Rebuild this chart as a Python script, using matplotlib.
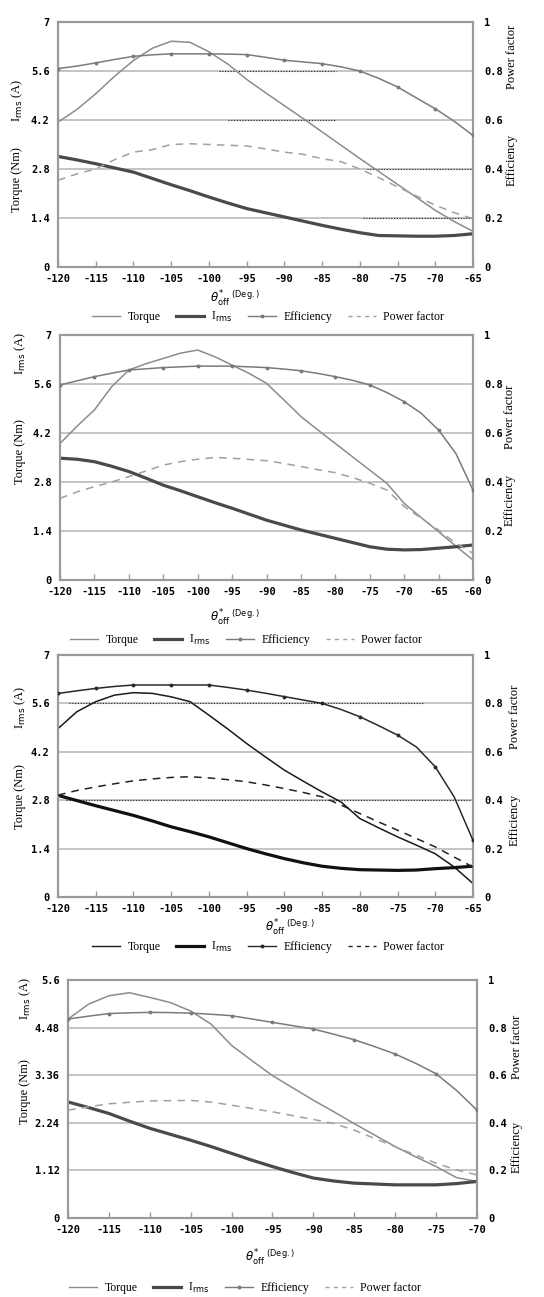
"""
Torque, I_rms, efficiency and power factor against turn-off angle
for four operating cases, stacked in one column.
"""
import matplotlib
matplotlib.use("Agg")
import matplotlib.pyplot as plt
from matplotlib.lines import Line2D

SERIF = "Liberation Serif"
MONO = "DejaVu Sans Mono"

# ---------------- datos (grados, Nm / A, p.u.) ----------------
# caso 1
x1 = [-120, -117.5, -115, -112.5, -110, -107.5, -105, -102.5, -100, -97.5, -95, -92.5,
      -90, -87.5, -85, -82.5, -80, -77.5, -75, -72.5, -70, -67.5, -65]
torque1 = [4.14, 4.50, 4.95, 5.45, 5.90, 6.25, 6.45, 6.42, 6.15, 5.80, 5.36, 4.98,
           4.61, 4.24, 3.86, 3.48, 3.10, 2.73, 2.36, 1.99, 1.62, 1.30, 1.02]
irms1 = [3.16, 3.06, 2.95, 2.83, 2.71, 2.53, 2.35, 2.18, 2.00, 1.83, 1.67, 1.55,
         1.43, 1.31, 1.19, 1.08, 0.98, 0.90, 0.89, 0.88, 0.88, 0.90, 0.95]
eff1 = [0.81, 0.82, 0.833, 0.847, 0.86, 0.866, 0.87, 0.87, 0.87, 0.869, 0.867, 0.856,
        0.844, 0.837, 0.83, 0.817, 0.80, 0.77, 0.735, 0.69, 0.646, 0.595, 0.537]
pf1 = [0.354, 0.38, 0.40, 0.438, 0.469, 0.479, 0.50, 0.503, 0.50, 0.497, 0.494, 0.482,
       0.469, 0.46, 0.442, 0.43, 0.40, 0.365, 0.327, 0.29, 0.252, 0.222, 0.197]

# caso 2
x2 = [-120, -117.5, -115, -112.5, -110, -107.5, -105, -102.5, -100, -97.5, -95, -92.5,
      -90, -87.5, -85, -82.5, -80, -77.5, -75, -72.5, -70, -67.5, -65, -62.5, -60]
torque2 = [3.90, 4.40, 4.86, 5.52, 6.00, 6.18, 6.33, 6.48, 6.57, 6.38, 6.14, 5.90,
           5.62, 5.15, 4.67, 4.28, 3.90, 3.52, 3.14, 2.76, 2.19, 1.78, 1.38, 0.97, 0.57]
irms2 = [3.48, 3.45, 3.38, 3.25, 3.10, 2.91, 2.71, 2.55, 2.38, 2.21, 2.05, 1.88,
         1.71, 1.57, 1.43, 1.31, 1.19, 1.07, 0.95, 0.88, 0.86, 0.87, 0.91, 0.95, 1.00]
eff2 = [0.796, 0.813, 0.83, 0.844, 0.857, 0.862, 0.867, 0.87, 0.873, 0.873, 0.873, 0.87,
        0.867, 0.861, 0.854, 0.843, 0.83, 0.815, 0.796, 0.765, 0.728, 0.68, 0.612, 0.517, 0.367]
pf2 = [0.333, 0.36, 0.381, 0.40, 0.422, 0.445, 0.469, 0.483, 0.493, 0.50, 0.497, 0.492,
       0.487, 0.476, 0.463, 0.45, 0.438, 0.418, 0.395, 0.367, 0.30, 0.252, 0.204, 0.15, 0.109]

# caso 3
x3 = [-120, -117.5, -115, -112.5, -110, -107.5, -105, -102.5, -100, -97.5, -95, -92.5,
      -90, -87.5, -85, -82.5, -80, -77.5, -75, -72.5, -70, -67.5, -65]
torque3 = [4.87, 5.36, 5.65, 5.84, 5.91, 5.89, 5.79, 5.65, 5.26, 4.86, 4.44, 4.05,
           3.67, 3.35, 3.04, 2.75, 2.27, 2.00, 1.74, 1.50, 1.25, 0.87, 0.39]
irms3 = [2.94, 2.79, 2.64, 2.50, 2.36, 2.20, 2.03, 1.89, 1.74, 1.57, 1.40, 1.25,
         1.11, 0.99, 0.89, 0.83, 0.79, 0.78, 0.77, 0.78, 0.82, 0.85, 0.89]
eff3 = [0.841, 0.852, 0.862, 0.87, 0.876, 0.876, 0.876, 0.876, 0.876, 0.866, 0.855, 0.842,
        0.828, 0.814, 0.80, 0.775, 0.745, 0.708, 0.669, 0.62, 0.538, 0.414, 0.234]
pf3 = [0.421, 0.44, 0.455, 0.468, 0.48, 0.488, 0.494, 0.497, 0.492, 0.485, 0.476, 0.463,
       0.448, 0.432, 0.414, 0.38, 0.345, 0.31, 0.276, 0.242, 0.207, 0.165, 0.124]

# caso 4
x4 = [-120, -117.5, -115, -112.5, -110, -107.5, -105, -102.5, -100, -97.5, -95, -92.5,
      -90, -87.5, -85, -82.5, -80, -77.5, -75, -72.5, -70]
torque4 = [4.68, 5.03, 5.23, 5.30, 5.19, 5.07, 4.87, 4.56, 4.06, 3.70, 3.35, 3.06,
           2.77, 2.50, 2.22, 1.95, 1.68, 1.44, 1.21, 0.95, 0.86]
irms4 = [2.73, 2.60, 2.46, 2.28, 2.11, 1.97, 1.83, 1.68, 1.52, 1.36, 1.21, 1.07,
         0.94, 0.87, 0.82, 0.80, 0.78, 0.78, 0.78, 0.81, 0.86]
eff4 = [0.836, 0.848, 0.859, 0.862, 0.864, 0.863, 0.861, 0.856, 0.85, 0.836, 0.822, 0.808,
        0.794, 0.772, 0.749, 0.72, 0.689, 0.65, 0.606, 0.536, 0.453]
pf4 = [0.453, 0.467, 0.48, 0.486, 0.492, 0.493, 0.494, 0.487, 0.474, 0.46, 0.446, 0.43,
       0.414, 0.397, 0.369, 0.334, 0.299, 0.265, 0.23, 0.202, 0.181]

xticks1 = [-120, -115, -110, -105, -100, -95, -90, -85, -80, -75, -70, -65]
xticks2 = [-120, -115, -110, -105, -100, -95, -90, -85, -80, -75, -70, -65, -60]
xticks4 = [-120, -115, -110, -105, -100, -95, -90, -85, -80, -75, -70]
yticks_a = [0, 1.4, 2.8, 4.2, 5.6, 7]
ylabels_a = ["0", "1.4", "2.8", "4.2", "5.6", "7"]
yticks_b = [0, 1.12, 2.24, 3.36, 4.48, 5.6]
ylabels_b = ["0", "1.12", "2.24", "3.36", "4.48", "5.6"]
rticks = [0, 0.2, 0.4, 0.6, 0.8, 1]
rlabels = ["0", "0.2", "0.4", "0.6", "0.8", "1"]

W, H = 544, 1297
fig = plt.figure(figsize=(W / 100, H / 100), dpi=100)
fig.patch.set_facecolor("white")


def fx(px):
    return px / W


def fy(py):
    return 1 - py / H


def panel(box, x, torque, irms, eff, pf, xlim, xticks, yticks, ylabels, cols,
          xlab_x, xlab_y, leg_x, leg_y, ltxt, rtxt, dotted=()):
    l, r, t, b = box
    ax = fig.add_axes([fx(l), fy(b), fx(r - l), (b - t) / H])
    ymax = yticks[-1]
    ax.set_xlim(*xlim)
    ax.set_ylim(0, ymax)
    ax2 = ax.twinx()
    ax2.set_ylim(0, 1)

    for yv in yticks[1:-1]:
        ax.axhline(yv, color="#c4c4c4", lw=1.4, zorder=0)
    for (yv, x0, x1_) in dotted:
        ax.hlines(yv, x0, x1_, colors="#222222", linestyles=(0, (1, 1.5)), lw=0.8, zorder=1)

    c_t, c_i, c_e, c_p = cols
    ax.plot(x, torque, color=c_t, lw=1.1, zorder=3)
    ax.plot(x, irms, color=c_i, lw=2.3, zorder=3)
    ax2.plot(x, eff, color=c_e, lw=1.1, marker="o", ms=1.8, markevery=2, zorder=3)
    ax2.plot(x, pf, color=c_p, lw=1.1, ls=(0, (5, 4)), zorder=3)

    for a in (ax, ax2):
        for s in a.spines.values():
            s.set_color("#9a9a9a")
            s.set_linewidth(1.5)
    ax.set_xticks(xticks)
    ax.set_xticklabels([str(v) for v in xticks], fontfamily=MONO,
                       fontweight="bold", fontsize=7.5)
    ax.tick_params(axis="x", direction="in", length=4, width=1.0, color="#9a9a9a", pad=5)
    ax.set_yticks(yticks)
    ax.set_yticklabels(ylabels, fontfamily=MONO, fontweight="bold", fontsize=7.5)
    ax.tick_params(axis="y", length=0, pad=6)
    ax2.set_yticks(rticks)
    ax2.set_yticklabels(rlabels, fontfamily=MONO, fontweight="bold", fontsize=7.5)
    ax2.tick_params(axis="y", length=0, pad=8)

    # etiquetas de los ejes
    fig.text(fx(xlab_x), fy(xlab_y), r"$\theta^{*}_{\rm off}$" + r" $^{\rm (Deg.)}$",
             ha="center", va="center", fontsize=8.5, family=SERIF)
    (lx, li, lt) = ltxt
    fig.text(fx(lx), fy(li), r"I$_{\rm rms}$ (A)", rotation=90, ha="center",
             va="center", fontsize=9, family=SERIF)
    fig.text(fx(lx), fy(lt), "Torque (Nm)", rotation=90, ha="center",
             va="center", fontsize=9, family=SERIF)
    (rx, rp, re) = rtxt
    fig.text(fx(rx), fy(rp), "Power factor", rotation=90, ha="center",
             va="center", fontsize=9, family=SERIF)
    fig.text(fx(rx), fy(re), "Efficiency", rotation=90, ha="center",
             va="center", fontsize=9, family=SERIF)

    handles = [
        Line2D([], [], color=c_t, lw=1.0),
        Line2D([], [], color=c_i, lw=2.3),
        Line2D([], [], color=c_e, lw=1.0, marker="o", ms=1.8),
        Line2D([], [], color=c_p, lw=1.0, ls=(0, (3, 3))),
    ]
    fig.legend(handles, ["Torque", r"I$_{\rm rms}$", "Efficiency", "Power factor"],
               loc="center", bbox_to_anchor=(fx(leg_x), fy(leg_y)), ncol=4,
               frameon=False, prop={"family": SERIF, "size": 8.5},
               handlelength=2.4, handletextpad=0.6, columnspacing=1.3)
    return ax


grey = ("#8c8c8c", "#4a4a4a", "#7a7a7a", "#a0a0a0")
dark = ("#1a1a1a", "#111111", "#2a2a2a", "#222222")

panel((58, 473, 22, 267), x1, torque1, irms1, eff1, pf1, (-120, -65), xticks1,
      yticks_a, ylabels_a, grey, 235, 298, 268, 317,
      (17, 100, 180), (512, 57, 160),
      dotted=[(5.6, -98.6, -83.1), (4.2, -97.5, -83.1),
              (2.8, -79.1, -65), (1.4, -79.6, -65)])
panel((60, 473, 335, 580), x2, torque2, irms2, eff2, pf2, (-120, -60), xticks2,
      yticks_a, ylabels_a, grey, 235, 617, 246, 640,
      (20, 353, 452), (510, 417, 500))
panel((58, 473, 655, 897), x3, torque3, irms3, eff3, pf3, (-120, -65), xticks1,
      yticks_a, ylabels_a, dark, 290, 927, 268, 947,
      (20, 707, 797), (515, 717, 820),
      dotted=[(5.6, -118.5, -71.6), (2.8, -119, -65)])
panel((68, 477, 980, 1218), x4, torque4, irms4, eff4, pf4, (-120, -70), xticks4,
      yticks_b, ylabels_b, grey, 270, 1257, 245, 1288,
      (25, 998, 1092), (517, 1047, 1147))

plt.savefig("out.png", dpi=100, facecolor="white")
